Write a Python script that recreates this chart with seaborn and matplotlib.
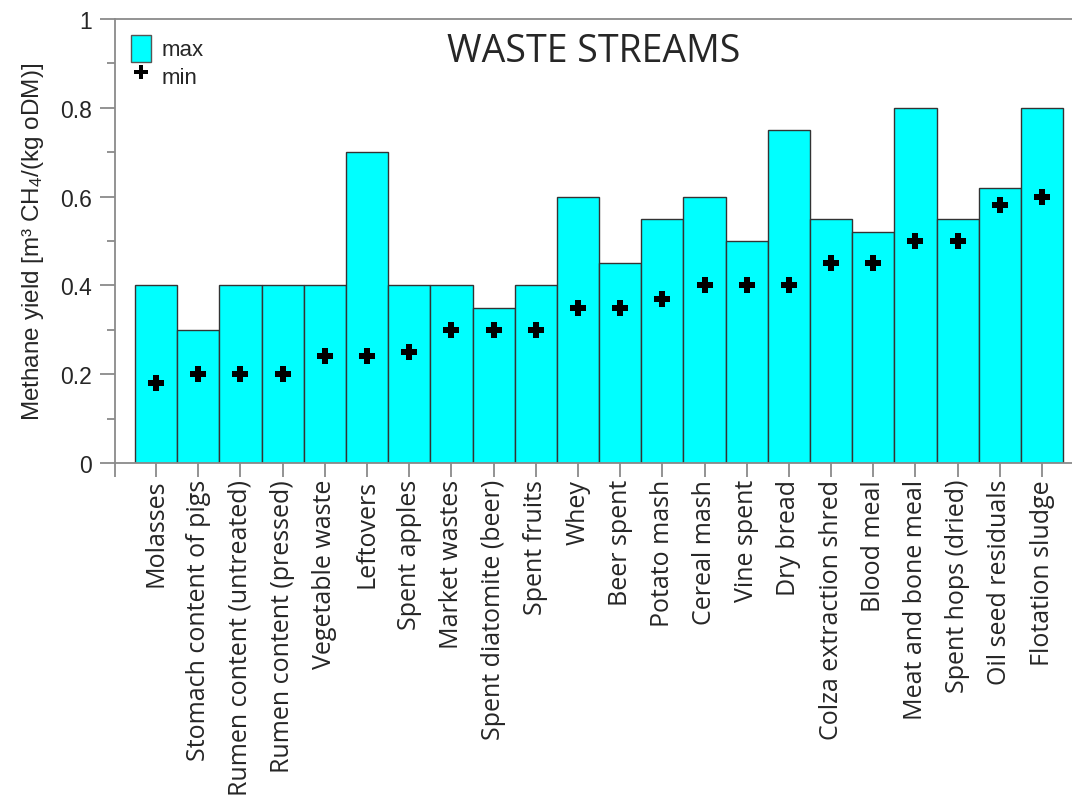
import matplotlib
matplotlib.use("Agg")
import matplotlib.pyplot as plt
import seaborn as sns
import numpy as np
from matplotlib.patches import Patch
from matplotlib.lines import Line2D
from matplotlib.ticker import FixedLocator, FixedFormatter

categories = ["Molasses", "Stomach content of pigs", "Rumen content (untreated)",
              "Rumen content (pressed)", "Vegetable waste", "Leftovers", "Spent apples",
              "Market wastes", "Spent diatomite (beer)", "Spent fruits", "Whey",
              "Beer spent", "Potato mash", "Cereal mash", "Vine spent", "Dry bread",
              "Colza extraction shred", "Blood meal", "Meat and bone meal",
              "Spent hops (dried)", "Oil seed residuals", "Flotation sludge"]
max_vals = [0.40, 0.30, 0.40, 0.40, 0.40, 0.70, 0.40, 0.40, 0.35, 0.40, 0.60,
            0.45, 0.55, 0.60, 0.50, 0.75, 0.55, 0.52, 0.80, 0.55, 0.62, 0.80]
min_vals = [0.18, 0.20, 0.20, 0.20, 0.24, 0.24, 0.25, 0.30, 0.30, 0.30, 0.35,
            0.35, 0.37, 0.40, 0.40, 0.40, 0.45, 0.45, 0.50, 0.50, 0.58, 0.60]
y_ticks = [0, 0.2, 0.4, 0.6, 0.8, 1.0]
y_tick_labels = ["0", "0.2", "0.4", "0.6", "0.8", "1"]

sns.set_style("white")
plt.rcParams['font.family'] = ['Liberation Sans', 'DejaVu Sans']
plt.rcParams['mathtext.default'] = 'regular'

fig = plt.figure(figsize=(10.72, 8.12), dpi=100)
ax = fig.add_axes([115/1072, 348/812, (1072-115)/1072, 444/812])

sns.barplot(x=categories, y=max_vals, color="#00FFFF", saturation=1, width=1,
            edgecolor="#333333", linewidth=1, ax=ax)
sns.scatterplot(x=categories, y=min_vals, marker="P", s=140, color="black",
                linewidth=0, ax=ax, zorder=5)

xmin, xmax = -0.974, 21.71
ax.set_xlim(xmin, xmax)
ax.set_ylim(0, 1)

spine_col = "#8a8a8a"
for s in ["left", "bottom", "top"]:
    ax.spines[s].set_visible(True)
    ax.spines[s].set_color(spine_col)
    ax.spines[s].set_linewidth(1.3)
ax.spines["right"].set_visible(False)

ax.set_xticks(list(range(len(categories))) + [xmin])
ax.set_xticklabels(categories + [""], rotation=90, family=["Open Sans", "DejaVu Sans"],
                   fontsize=18)
ax.yaxis.set_major_locator(FixedLocator(y_ticks))
ax.yaxis.set_major_formatter(FixedFormatter(y_tick_labels))
ax.yaxis.set_minor_locator(FixedLocator([0.1, 0.3, 0.5, 0.7, 0.9]))
ax.tick_params(axis="y", which="major", direction="out", length=10.8, width=1.3,
               color=spine_col, labelsize=16.5, pad=6, left=True)
ax.tick_params(axis="y", which="minor", direction="out", length=5.8, width=1.3,
               color=spine_col, left=True)
ax.tick_params(axis="x", which="major", direction="out", length=10, width=1.3,
               color=spine_col, pad=1.5, bottom=True)

ax.set_xlabel("")
ax.set_ylabel(r"Methane yield [m³ CH$_4$/(kg oDM)]", fontsize=17.5, labelpad=10)

ax.text(0.5, 0.928, "WASTE STREAMS", transform=ax.transAxes, ha="center", va="center",
        fontsize=27, family=["Open Sans", "DejaVu Sans"])

handles = [Patch(facecolor="#00FFFF", edgecolor="#555555", linewidth=1, label="max"),
           Line2D([], [], marker="P", color="black", linestyle="none", markersize=10,
                  markeredgewidth=0, label="min")]
ax.legend(handles=handles, loc="upper left", frameon=False, fontsize=16,
          handlelength=0.9, handleheight=1.5, handletextpad=0.5, labelspacing=0.0,
          borderaxespad=0.3, borderpad=0.4, bbox_to_anchor=(0.0, 1.0))

fig.savefig("out.png", dpi=100)
